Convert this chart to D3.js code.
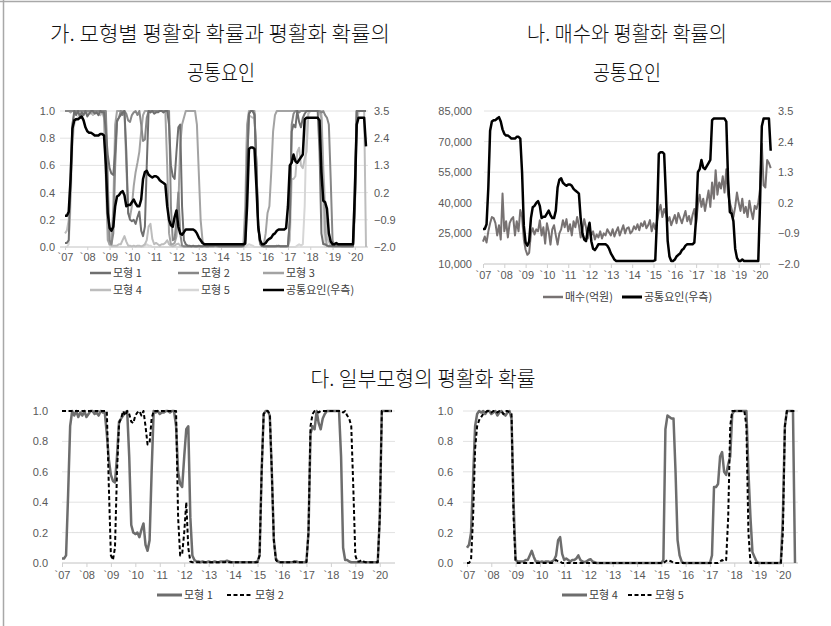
<!DOCTYPE html>
<html><head><meta charset="utf-8">
<script src="https://cdn.jsdelivr.net/npm/d3@7"></script>
<style>
body{margin:0;background:#fff}
svg{display:block}
</style>
</head><body>
<svg id="c" width="831" height="626"></svg>
<script>
// ---------------- DATA ----------------
// monthly observations, Jan 2007 (index 0) ... Jul 2020 (index 162)
const yearLabels = ["`07","`08","`09","`10","`11","`12","`13","`14","`15","`16","`17","`18","`19","`20"];
const yearTicks = [0,12,24,36,48,60,72,84,96,108,120,132,144,156];

const model1 = [0.03,0.03,0.05,0.45,0.9,1.0,0.97,1.0,0.96,0.99,
0.97,1.0,0.96,0.98,1.0,1.0,0.98,0.99,0.97,1.0,
0.99,0.99,0.85,0.68,0.58,0.54,0.53,0.7,0.93,0.95,
0.97,0.99,1.0,0.7,0.25,0.2,0.19,0.2,0.17,0.22,
0.26,0.12,0.08,0.15,0.6,1.0,0.99,1.0,0.98,0.99,
0.99,1.0,1.0,0.99,1.0,1.0,0.9,0.6,0.52,0.5,
0.7,0.88,0.9,0.3,0.05,0.02,0.01,0.01,0.005,0.01,
0.005,0.005,0.01,0.005,0.005,0.01,0.005,0.005,0.01,0.01,
0.01,0.015,0.01,0.005,0.005,0.005,0.005,0.005,0.005,0.005,
0.005,0.005,0.005,0.005,0.005,0.005,0.01,0.05,0.6,0.98,
1.0,1.0,0.97,0.6,0.15,0.03,0.01,0.005,0.005,0.005,
0.005,0.005,0.005,0.005,0.005,0.01,0.005,0.005,0.005,0.005,
0.01,0.2,0.85,0.9,0.88,1.0,0.92,0.88,0.95,0.98,
1.0,1.0,1.0,1.0,1.0,1.0,1.0,0.7,0.1,0.02,
0.02,0.01,0.005,0.005,0.005,0.005,0.005,0.005,0.005,0.005,
0.005,0.005,0.005,0.005,0.005,0.005,0.3,1.0,1.0,1.0,
1.0,1.0,1.0];

const model2 = [1,1,1,1,1,1,1,1,1,1,
1,1,1,1,1,1,1,1,1,1,
1,1,1,0.5,0.05,0.02,0.1,0.6,0.92,0.95,
1,0.97,1,0.98,0.93,0.92,0.97,0.99,1,0.97,
1,0.9,0.78,0.79,0.95,1,1,1,1,1,
1,1,1,1,1,1,1,0.3,0.05,0.06,
0.2,0.4,0.1,0.01,0.005,0.005,0.005,0.005,0.005,0.005,
0.005,0.005,0.005,0.005,0.005,0.005,0.005,0.005,0.005,0.005,
0.005,0.01,0.005,0.005,0.005,0.005,0.005,0.005,0.005,0.005,
0.005,0.005,0.005,0.005,0.005,0.005,0.005,0.05,0.6,0.98,
1,1,0.98,0.6,0.15,0.02,0.005,0.005,0.005,0.005,
0.005,0.005,0.005,0.005,0.01,0.005,0.005,0.005,0.005,0.005,
0.005,0.2,0.9,0.98,1,1,0.99,1,1,1,
1,1,1,1,1,1,1,1,0.99,1,
0.97,0.95,0.9,0.5,0.05,0.01,0.01,0.02,0.01,0.005,
0.005,0.005,0.005,0.005,0.005,0.005,0.3,1,1,1,
1,1,1];

const model3 = [1,1,1,0.99,1,1,0.98,1,1,1,
1,0.99,1,1,0.98,1,1,1,0.99,1,
1,0.95,0.5,0.05,0.02,0.02,0.3,0.9,1,1,
1,1,1,0.6,0.25,0.22,0.3,0.45,0.55,0.62,
0.7,0.85,0.97,1,1,1,1,1,1,1,
1,1,1,1,1,0.6,0.1,0.02,0.02,0.03,
0.08,0.3,0.75,0.9,0.95,1,1,1,1,1,
1,0.9,0.55,0.2,0.05,0.01,0.01,0.01,0.01,0.01,
0.01,0.01,0.01,0.01,0.01,0.01,0.01,0.01,0.01,0.01,
0.01,0.01,0.01,0.01,0.01,0.01,0.01,0.3,0.9,1,
1,1,1,0.6,0.15,0.03,0.02,0.02,0.1,0.25,
0.3,0.55,0.85,0.97,1,1,1,1,1,1,
1,1,1,1,1,1,1,1,1,1,
1,1,1,1,1,1,1,1,0.95,0.5,
0.1,0.01,0.01,0.01,0.01,0.01,0.01,0.01,0.01,0.01,
0.01,0.01,0.01,0.01,0.01,0.01,0.5,1,1,1,
1,1,1];

const model4 = [0.1,0.12,0.2,0.55,0.9,0.98,1.0,0.99,1.0,0.98,
1.0,1.0,0.98,0.99,1.0,0.97,0.99,1.0,0.98,0.97,
0.99,1.0,0.95,0.4,0.02,0.01,0.01,0.01,0.01,0.02,
0.02,0.05,0.08,0.04,0.01,0.01,0.005,0.01,0.005,0.01,
0.01,0.005,0.01,0.02,0.05,0.15,0.17,0.06,0.02,0.03,
0.02,0.01,0.02,0.02,0.03,0.05,0.02,0.01,0.005,0.01,
0.02,0.025,0.01,0.005,0,0,0,0,0,0,
0,0,0,0,0,0,0,0,0,0,
0,0,0,0,0,0,0,0,0,0,
0,0,0,0,0,0,0,0.02,0.88,0.97,
0.96,0.95,0.95,0.6,0.15,0.05,0.01,0,0,0,
0,0,0,0,0,0,0,0,0,0,
0,0.05,0.5,0.5,0.52,0.7,0.73,0.6,0.58,0.65,
0.7,0.98,1.0,1.0,1.0,1.0,1.0,1.0,1.0,0.6,
0.3,0.07,0.04,0.01,0,0,0,0,0,0,
0,0,0,0,0,0,0.3,0.9,1.0,1.0,
1.0,1.0,0.0];

const model5 = [0,0,0.02,0.3,0.75,0.9,0.94,0.96,0.98,0.99,
1,1,0.99,1,1,0.99,1,1,0.98,1,
1,0.99,0.98,0.3,0.01,0,0,0,0,0,
0,0,0,0,0,0,0,0,0,0,
0,0,0,0.01,0.02,0.01,0.01,0,0,0,
0,0,0,0,0,0,0,0,0,0,
0,0,0,0,0,0,0,0,0,0,
0,0,0,0,0,0,0,0,0,0,
0,0,0,0,0,0,0,0,0,0,
0,0,0,0,0,0,0,0,0.01,0.02,
0.015,0.01,0,0,0,0,0,0,0,0,
0,0,0,0,0,0,0,0,0,0,
0,0,0,0,0,0.01,0.02,0.01,0.02,0.3,
0.9,1,1,1,1,1,1,1,0.9,0.2,
0,0,0,0,0,0,0,0,0,0,
0,0,0,0,0,0,0.2,0.9,1,1,
1,1,1];

// common factor (right axis)
const commonFactor = [-0.74,-0.74,-0.57,0.75,2.79,3.12,3.17,3.17,3.23,3.28,
3.12,2.84,2.68,2.62,2.62,2.57,2.51,2.51,2.51,2.57,
2.57,2.51,1.3,-0.63,-1.23,-1.34,-1.18,-0.35,0.04,0.09,
0.2,0.26,0.09,-0.35,-0.3,-0.3,-0.19,-0.08,-0.24,-0.35,
-0.35,-0.08,0.75,1.03,1.08,0.92,0.86,0.81,0.86,0.86,
0.81,0.7,0.64,0.59,0.53,-0.35,-0.9,-1.12,-1.18,-0.79,
-0.52,-1.18,-1.45,-1.5,-1.4,-1.29,-1.29,-1.29,-1.29,-1.29,
-1.34,-1.45,-1.62,-1.73,-1.84,-1.89,-1.89,-1.89,-1.89,-1.89,
-1.89,-1.89,-1.89,-1.89,-1.89,-1.89,-1.89,-1.89,-1.89,-1.89,
-1.89,-1.89,-1.89,-1.89,-1.89,-1.89,-1.89,-1.86,-0.35,1.96,
2.02,2.02,1.96,0.48,-1.18,-1.73,-1.89,-1.89,-1.84,-1.73,
-1.67,-1.62,-1.5,-1.45,-1.34,-1.29,-1.29,-1.29,-1.29,-1.23,
-0.35,1.3,1.41,1.74,1.47,1.41,1.52,1.63,1.74,3.17,
3.23,3.23,3.23,3.23,3.23,3.23,3.23,3.12,1.03,-0.13,
-0.19,-0.46,-1.45,-1.78,-1.89,-1.89,-1.84,-1.89,-1.89,-1.89,
-1.89,-1.89,-1.89,-1.89,-1.89,-1.89,0.2,2.95,3.23,3.23,
3.23,3.23,2.07];

// purchases (100 million KRW)
const purchases = [21000,23500,20500,26000,30000,33000,32500,30000,24000,29000,
22000,44500,26000,31000,23000,30000,32000,33000,24000,31000,
26000,36500,33000,22000,17000,14500,15500,25000,27500,24500,
27000,26000,31500,24000,28000,20000,30000,26000,19500,27000,
29000,24000,19500,25000,27000,31500,28000,32000,26000,29500,
24000,31000,28000,33000,29000,23000,26500,32000,28000,22500,
27000,24000,26000,22000,24500,23000,26000,22500,25000,24000,
27000,25500,24000,27000,23500,26000,28000,24000,26500,29000,
25000,27500,28000,25000,26000,28500,27000,29500,26500,30000,
28500,31000,27500,29000,31500,26000,30000,27000,31000,36000,
39000,33000,37000,34500,31000,33000,29000,31500,34000,30000,
35000,32500,30000,33000,36000,31000,33500,29500,34000,37000,
30000,39000,44000,38000,42000,36000,41000,46000,38000,50000,
42000,56000,44000,50000,47000,53000,45000,56500,44000,40000,
37000,33000,38000,45000,40000,36000,42000,35000,38000,33000,
41000,36000,32000,38500,37000,40000,47000,69000,48500,47500,
61000,59500,57000];

const probTicks = [0,0.2,0.4,0.6,0.8,1.0];
const factorTicks = [-2.0,-0.9,0.2,1.3,2.4,3.5];
const purchaseTicks = [10000,25000,40000,55000,70000,85000];

// ---------------- DRAW ----------------
const svg = d3.select("#c");
const NUM = "'Liberation Sans', Arial, sans-serif";
const KR = "'Noto Sans CJK KR', sans-serif";
const N = model1.length;

// frame
svg.append("line").attr("x1",0).attr("x2",831).attr("y1",1.5).attr("y2",1.5).attr("stroke","#a8a8a8").attr("stroke-width",1.5);
svg.append("line").attr("x1",3.5).attr("x2",3.5).attr("y1",0).attr("y2",626).attr("stroke","#a8a8a8").attr("stroke-width",1.5);

function title(txt, cx, y, len){
  svg.append("text").attr("x",cx).attr("y",y).attr("text-anchor","middle")
    .attr("font-family",KR).attr("font-size",21).attr("font-weight",300).attr("fill","#111")
    .attr("textLength",len).attr("lengthAdjust","spacingAndGlyphs").text(txt);
}
title("가. 모형별 평활화 확률과 평활화 확률의", 220, 41, 340);
title("공통요인", 221, 80, 68);
title("나. 매수와 평활화 확률의", 627, 41, 200);
title("공통요인", 627, 80, 68);
title("다. 일부모형의 평활화 확률", 423, 386, 225);

function panel(c){
  const g = svg.append("g");
  const x = d3.scaleLinear().domain([0,N-1]).range([c.x0,c.x1]);
  const yL = d3.scaleLinear().domain(c.lDomain).range([c.yBot,c.yTop]);
  // grid
  g.selectAll("line.grid").data(c.lTicks).join("line").attr("class","grid")
    .attr("x1",c.gx0).attr("x2",c.gx1).attr("y1",d=>yL(d)).attr("y2",d=>yL(d))
    .attr("stroke","#e2e2e2").attr("stroke-width",1);
  // left axis
  const la = g.append("g").attr("transform",`translate(${c.lx},0)`)
    .call(d3.axisLeft(yL).tickValues(c.lTicks).tickFormat(c.lFmt).tickSize(0).tickPadding(0));
  la.select(".domain").remove();
  la.selectAll("text").attr("font-family",NUM).attr("font-size",11).attr("fill","#595959");
  let yR = null;
  if(c.rDomain){
    yR = d3.scaleLinear().domain(c.rDomain).range([c.yBot,c.yTop]);
    const ra = g.append("g").attr("transform",`translate(${c.rx},0)`)
      .call(d3.axisRight(yR).tickValues(c.rTicks).tickFormat(d=>d3.format(".1f")(d).replace("-","−")).tickSize(0).tickPadding(0));
    ra.select(".domain").remove();
    ra.selectAll("text").attr("font-family",NUM).attr("font-size",11).attr("fill","#595959");
  }
  // x axis
  g.append("line").attr("x1",c.gx0).attr("x2",c.gx1).attr("y1",c.yBot).attr("y2",c.yBot).attr("stroke","#d0d0d0");
  const xa = g.append("g").attr("transform",`translate(0,${c.yBot})`)
    .call(d3.axisBottom(x).tickValues(yearTicks).tickFormat((d,i)=>yearLabels[i]).tickSize(c.xTick).tickPadding(c.xPad));
  xa.select(".domain").remove();
  xa.selectAll("line").attr("stroke","#d0d0d0");
  xa.selectAll("text").attr("font-family",NUM).attr("font-size",11).attr("fill","#595959");
  const lineL = d3.line().x((d,i)=>x(i)).y(d=>yL(d));
  const lineR = yR ? d3.line().x((d,i)=>x(i)).y(d=>yR(d)) : null;
  c.series.forEach(s=>{
    g.append("path").datum(s.data).attr("fill","none")
      .attr("stroke",s.color).attr("stroke-width",s.width)
      .attr("stroke-dasharray",s.dash||null).attr("stroke-linejoin","round")
      .attr("d", s.right ? lineR : lineL);
  });
  return g;
}

const fmt1 = d3.format(".1f");
panel({x0:65,x1:366,gx0:60,gx1:368,yTop:111,yBot:247,lDomain:[0,1],lTicks:probTicks,lFmt:fmt1,lx:55,
  rDomain:[-2,3.5],rTicks:factorTicks,rx:374,xTick:3,xPad:3,
  series:[
    {data:model5,color:"#d6d6d6",width:2},
    {data:model4,color:"#bdbdbd",width:2},
    {data:model3,color:"#a3a3a3",width:2},
    {data:model2,color:"#878787",width:2},
    {data:model1,color:"#6f6f6f",width:2},
    {data:commonFactor,color:"#000",width:2.5,right:true}
  ]});

panel({x0:483,x1:770.7,gx0:484,gx1:770,yTop:111,yBot:264,lDomain:[10000,85000],lTicks:purchaseTicks,lFmt:d3.format(","),lx:472,
  rDomain:[-2,3.5],rTicks:factorTicks,rx:778,xTick:4,xPad:3,
  series:[
    {data:purchases,color:"#777272",width:2},
    {data:commonFactor,color:"#000",width:2.5,right:true}
  ]});

panel({x0:62,x1:392,gx0:62,gx1:395,yTop:411,yBot:563,lDomain:[0,1],lTicks:probTicks,lFmt:fmt1,lx:48,xTick:4,xPad:4,
  series:[
    {data:model1,color:"#6d6d6d",width:2.5},
    {data:model2,color:"#000",width:2,dash:"4,2.5"}
  ]});

panel({x0:467,x1:795,gx0:463,gx1:798,yTop:411,yBot:563,lDomain:[0,1],lTicks:probTicks,lFmt:fmt1,lx:453,xTick:4,xPad:4,
  series:[
    {data:model4,color:"#6d6d6d",width:2.5},
    {data:model5,color:"#000",width:2,dash:"4,2.5"}
  ]});

// legends
function legend(x1,x2,y,color,w,dash,label){
  svg.append("line").attr("x1",x1).attr("x2",x2).attr("y1",y).attr("y2",y)
    .attr("stroke",color).attr("stroke-width",w).attr("stroke-dasharray",dash||null);
  svg.append("text").attr("x",x2+2).attr("y",y).attr("dy","0.35em")
    .attr("font-family",KR).attr("font-size",11).attr("fill","#404040").text(label);
}
const legA = [
  ["모형 1","#6f6f6f",90,273],["모형 2","#878787",178,273],["모형 3","#a3a3a3",263,273],
  ["모형 4","#bdbdbd",90,290],["모형 5","#d6d6d6",178,290],["공통요인(우측)","#000",263,290]
];
legA.forEach(d=>legend(d[2],d[2]+21,d[3],d[1],2.5,null,d[0]));
legend(543,563,297,"#777272",2.5,null,"매수(억원)");
legend(622,642,297,"#000",3,null,"공통요인(우측)");
legend(157,182,595,"#6d6d6d",3,null,"모형 1");
legend(227,253,595,"#000",2,"4,2.5","모형 2");
legend(562,587,595,"#6d6d6d",3,null,"모형 4");
legend(628,653,595,"#000",2,"4,2.5","모형 5");
</script>
</body></html>
